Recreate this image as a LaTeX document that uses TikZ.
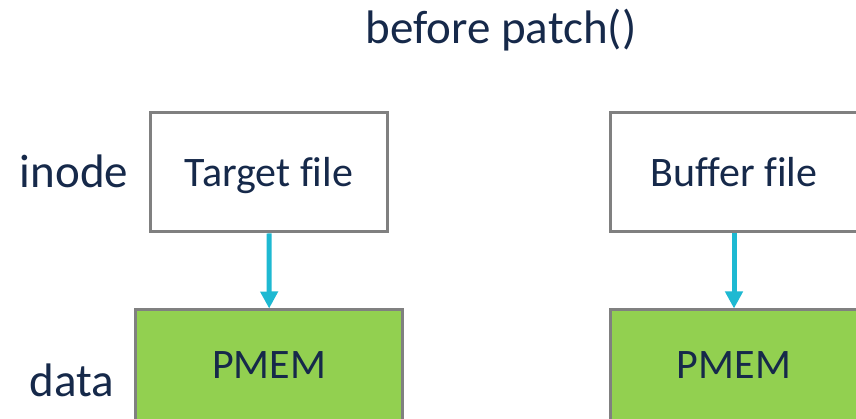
\documentclass[tikz,border=0pt]{standalone}
\usepackage{fontspec}
\setmainfont{Carlito}[Ligatures=NoCommon]
\usetikzlibrary{arrows.meta}

\definecolor{inknavy}{RGB}{22,41,74}
\definecolor{edgegray}{RGB}{128,128,128}
\definecolor{pmemgreen}{RGB}{146,208,80}
\definecolor{linkcyan}{RGB}{30,185,210}

\tikzset{
  labeltext/.style={text=inknavy, font=\fontsize{47}{56}\selectfont, inner sep=0pt, anchor=base},
  filebox/.style={draw=edgegray, line width=3pt, fill=white, inner sep=0pt,
    minimum height=119pt, text=inknavy, font=\fontsize{42}{50}\selectfont,
    text height=28.4pt, text depth=0pt},
  pmembox/.style={draw=edgegray, line width=3pt, fill=pmemgreen, inner sep=0pt,
    minimum height=112pt, text=inknavy, font=\fontsize{42}{50}\selectfont,
    text height=24.6pt, text depth=0pt},
  flow/.style={draw=linkcyan, line width=5pt, shorten >=0pt,
    -{Triangle[length=17pt,width=17pt]}}
}

\begin{document}
\begin{tikzpicture}[x=1pt,y=-1pt]
  \clip (0,0) rectangle (856,419);
  \fill[white] (0,0) rectangle (856,419);

  % heading and row captions
  \node[labeltext] (title) at (501,44) {before patch()};
  \node[labeltext] (rowinode) at (74,188) {inode};
  \node[labeltext] (rowdata) at (72,396.7) {data};

  % target file column
  \node[filebox, minimum width=237.5pt] (target) at (269,172.5) {Target file};
  \node[pmembox, minimum width=267pt] (pmemA) at (269.2,366) {PMEM};

  % buffer file column
  \node[filebox, minimum width=248pt] (buffer) at (734,172.5) {Buffer file};
  \node[pmembox, minimum width=248pt] (pmemB) at (734,366) {PMEM};

  % inode -> data links
  \draw[flow] (target) -- (pmemA);
  \draw[flow] (buffer) -- (pmemB);
\end{tikzpicture}
\end{document}
